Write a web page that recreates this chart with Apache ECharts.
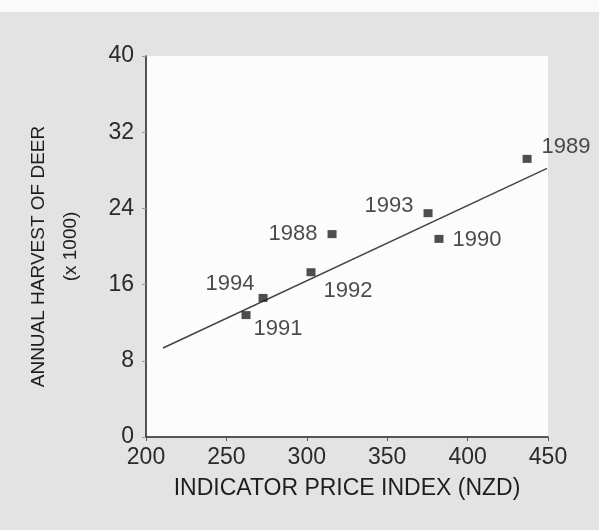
<!DOCTYPE html>
<html>
<head>
<meta charset="utf-8">
<script src="https://cdn.jsdelivr.net/npm/echarts@6/dist/echarts.min.js"></script>
<style>
html,body{margin:0;padding:0;background:#e4e4e4;}
#c{width:599px;height:530px;}
</style>
</head>
<body>
<div id="c"></div>
<script>
// Data
const years = ['1988','1989','1990','1991','1992','1993','1994'];
const priceIndex = [315.7, 437, 382.2, 262.2, 302.6, 375.4, 272.8];
const harvest = [21.3, 29.2, 20.8, 12.8, 17.3, 23.5, 14.6];
// fitted line end points as drawn
const lineX = [210.6, 449.4];
const lineY = [9.34, 28.2];
const xTicks = [200, 250, 300, 350, 400, 450];
const yTicks = [0, 8, 16, 24, 32, 40];
const yTitle = ['ANNUAL HARVEST OF DEER', '(x 1000)'];
const xTitle = 'INDICATOR PRICE INDEX (NZD)';

// label placement (style only)
const labelPlace = {
  '1988': {position: 'left', offset: [-5, 0]},
  '1989': {position: 'right', offset: [5, -12]},
  '1990': {position: 'right', offset: [4, 1]},
  '1991': {position: 'right', offset: [-2, 14]},
  '1992': {position: 'right', offset: [3, 19]},
  '1993': {position: 'left', offset: [-5, -7]},
  '1994': {position: 'left', offset: [1, -14]}
};

const pts = years.map((y, i) => ({
  value: [priceIndex[i], harvest[i]],
  name: y,
  label: Object.assign({show: true, formatter: y}, labelPlace[y])
}));

const chart = echarts.init(document.getElementById('c'), null, {renderer: 'canvas'});
const font = 'Liberation Sans, Arial, sans-serif';
chart.setOption({
  backgroundColor: '#e3e3e3',
  animation: false,
  graphic: [
    {type: 'rect', shape: {x: 0, y: 0, width: 599, height: 12}, style: {fill: '#fafafa'}, z: -10}
  ],
  grid: {left: 146, right: 51, top: 56, bottom: 93, show: true, backgroundColor: '#fcfcfc', borderWidth: 0},
  xAxis: {
    type: 'value', min: xTicks[0], max: xTicks[xTicks.length - 1], interval: 50,
    name: xTitle, nameLocation: 'middle', nameGap: 40,
    nameTextStyle: {color: '#1e1e1e', fontSize: 23, fontFamily: font},
    axisLine: {show: true, onZero: false, lineStyle: {color: '#222', width: 1.5}},
    axisTick: {show: true, length: 4, lineStyle: {color: '#555'}},
    axisLabel: {color: '#2a2a2a', fontSize: 23, fontFamily: font, margin: 9},
    splitLine: {show: false}
  },
  yAxis: {
    type: 'value', min: yTicks[0], max: yTicks[yTicks.length - 1], interval: 8,
    name: '{a|' + yTitle[0] + '}\n{b|' + yTitle[1] + '}', nameLocation: 'middle', nameGap: 59,
    nameTextStyle: {
      color: '#1e1e1e', fontSize: 19, fontFamily: font, lineHeight: 32,
      rich: {
        a: {color: '#1e1e1e', fontSize: 19, fontFamily: font, lineHeight: 32, padding: [0, 20, 0, 0]},
        b: {color: '#1e1e1e', fontSize: 19, fontFamily: font, lineHeight: 32}
      }
    },
    axisLine: {show: true, onZero: false, lineStyle: {color: '#222', width: 1.5}},
    axisTick: {show: true, length: 4, lineStyle: {color: '#999'}},
    axisLabel: {color: '#2a2a2a', fontSize: 23, fontFamily: font, margin: 12},
    splitLine: {show: false}
  },
  series: [
    {
      type: 'line',
      data: [[lineX[0], lineY[0]], [lineX[1], lineY[1]]],
      showSymbol: false, symbol: 'none',
      lineStyle: {color: '#444', width: 1.5},
      z: 2
    },
    {
      type: 'scatter',
      data: pts,
      symbol: 'rect', symbolSize: [9, 8],
      itemStyle: {color: '#222'},
      label: {color: '#1e1e1e', fontSize: 22, fontFamily: font},
      z: 3
    }
  ]
});
</script>
</body>
</html>
